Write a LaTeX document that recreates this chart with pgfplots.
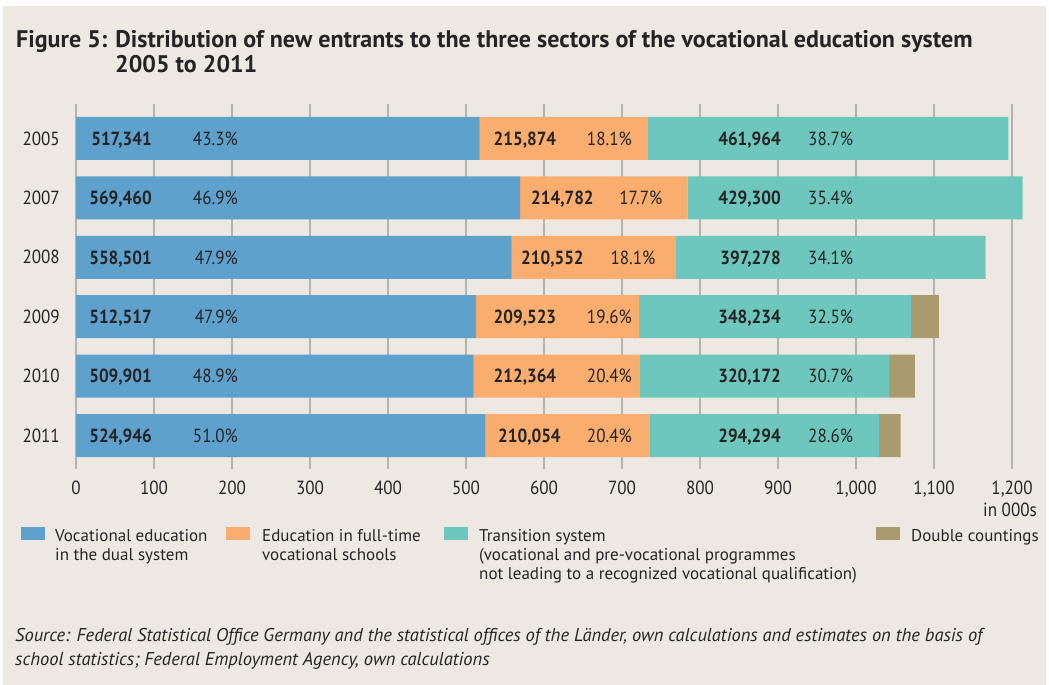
\documentclass[border=0pt]{standalone}
\usepackage{fontspec}
\setmainfont{PT Sans}
\newfontfamily\narrowfont{PT Sans}[FakeStretch=0.9]
\usepackage{pgfplots}
\usepackage{pgfplotstable}
\pgfplotsset{compat=1.18}

\definecolor{bgbeige}{HTML}{EDE9E2}
\definecolor{dualblue}{HTML}{5DA1CC}
\definecolor{fullorange}{HTML}{F9AE6F}
\definecolor{transteal}{HTML}{6DC7BC}
\definecolor{dblbrown}{HTML}{AA9B6F}
\definecolor{gridgray}{HTML}{B5B3B0}
\definecolor{textdark}{HTML}{262324}

% values in thousands, one row per year (top to bottom)
\pgfplotstableread{
row dual    full    trans   dbl
0   517.341 215.874 461.964 0
1   569.460 214.782 429.300 0
2   558.501 210.552 397.278 0
3   512.517 209.523 348.234 36
4   509.901 212.364 320.172 33
5   524.946 210.054 294.294 28
}\entrants

\tikzset{
  vlab/.style={font=\narrowfont\fontsize{19}{22}\selectfont\bfseries, text=textdark, inner sep=0pt},
  plab/.style={font=\narrowfont\fontsize{19}{22}\selectfont, text=textdark, inner sep=0pt},
  leg/.style={font=\fontsize{17}{20}\selectfont, text=textdark, inner sep=0pt, anchor=base west},
}
% baseline of the labels in each bar row
\def\rowy#1{-(145.26+59.41*#1)}

\begin{document}
\begin{tikzpicture}[x=1pt,y=1pt]
\useasboundingbox (0,0) rectangle (1049,-685);
\fill[white] (0,0) rectangle (1049,-685);
\fill[bgbeige] (3,-6) rectangle (1046,-685);

\node[anchor=base west, inner sep=0pt, text=textdark, font=\fontsize{24}{28}\selectfont\bfseries]
  at (16,-48) {Figure 5: Distribution of new entrants to the three sectors of the vocational education system};
\node[anchor=base west, inner sep=0pt, text=textdark, font=\fontsize{24}{28}\selectfont\bfseries]
  at (115,-73) {2005 to 2011};

\begin{axis}[
    at={(76pt,-104pt)}, anchor=north west,
    scale only axis, width=936pt, height=365pt,
    xbar stacked, bar width=43pt,
    xmin=0, xmax=1200,
    ymin=-0.58, ymax=5.564, y dir=reverse,
    axis line style={draw=none},
    xmajorgrids,
    grid style={gridgray, line width=1.3pt},
    xtick={0,100,...,1200},
    ytick={0,1,2,3,4,5},
    yticklabels={2005,2007,2008,2009,2010,2011},
    major tick length=0pt,
    ticklabel style={font=\narrowfont\fontsize{19}{22}\selectfont, text=textdark},
    xticklabel style={anchor=base, yshift=-25pt, /pgf/number format/1000 sep={,}},
    yticklabel style={anchor=east, inner sep=0pt, xshift=-16pt},
    /pgf/number format/assume math mode=true,
    clip=false,
]
\addplot[fill=dualblue, draw=none] table[x=dual, y=row] {\entrants};
\addplot[fill=fullorange, draw=none] table[x=full, y=row] {\entrants};
\addplot[fill=transteal, draw=none] table[x=trans, y=row] {\entrants};
\addplot[fill=dblbrown, draw=none] table[x=dbl, y=row] {\entrants};
\end{axis}

% dual system labels
\foreach \r/\v/\p in {0/{517,341}/43.3, 1/{569,460}/46.9, 2/{558,501}/47.9,
                      3/{512,517}/47.9, 4/{509,901}/48.9, 5/{524,946}/51.0} {
  \node[vlab, anchor=base east] at (152,{\rowy{\r}}) {\v};
  \node[plab, anchor=base east] at (238,{\rowy{\r}}) {\p\%};
}
% full-time school labels
\foreach \r/\v/\p/\xa/\xb in {0/{215,874}/18.1/493.5/632, 1/{214,782}/17.7/531/662.5,
                              2/{210,552}/18.1/521/655.6, 3/{209,523}/19.6/493.5/632,
                              4/{212,364}/20.4/493.5/632, 5/{210,054}/20.4/498/632} {
  \node[vlab, anchor=base west] at (\xa,{\rowy{\r}}) {\v};
  \node[plab, anchor=base east] at (\xb,{\rowy{\r}}) {\p\%};
}
% transition system labels
\foreach \r/\v/\p in {0/{461,964}/38.7, 1/{429,300}/35.4, 2/{397,278}/34.1,
                      3/{348,234}/32.5, 4/{320,172}/30.7, 5/{294,294}/28.6} {
  \node[vlab, anchor=base east] at (781,{\rowy{\r}}) {\v};
  \node[plab, anchor=base west] at (808,{\rowy{\r}}) {\p\%};
}

\node[anchor=base, inner sep=0pt, text=textdark, font=\narrowfont\fontsize{19}{22}\selectfont] at (1010,-516) {in 000s};

% legend
\fill[dualblue]   (21,-527) rectangle (45,-540);
\fill[fullorange] (226,-527) rectangle (250,-540);
\fill[transteal]  (444,-527) rectangle (468,-540);
\fill[dblbrown]   (876,-527) rectangle (900,-540);
\node[leg] at (55,-541) {Vocational education};
\node[leg] at (55,-560) {in the dual system};
\node[leg] at (262,-541) {Education in full-time};
\node[leg] at (262,-560) {vocational schools};
\node[leg] at (479,-541) {Transition system};
\node[leg] at (479,-560) {(vocational and pre-vocational programmes};
\node[leg] at (479,-579) {not leading to a recognized vocational qualification)};
\node[leg] at (911,-541) {Double countings};

% source
\node[anchor=base west, inner sep=0pt, text=textdark, font=\fontsize{18.5}{21}\selectfont\itshape]
  at (15,-641) {Source: Federal Statistical Office Germany and the statistical offices of the Länder, own calculations and estimates on the basis of};
\node[anchor=base west, inner sep=0pt, text=textdark, font=\fontsize{18.5}{21}\selectfont\itshape]
  at (15,-665) {school statistics; Federal Employment Agency, own calculations};
\end{tikzpicture}
\end{document}
